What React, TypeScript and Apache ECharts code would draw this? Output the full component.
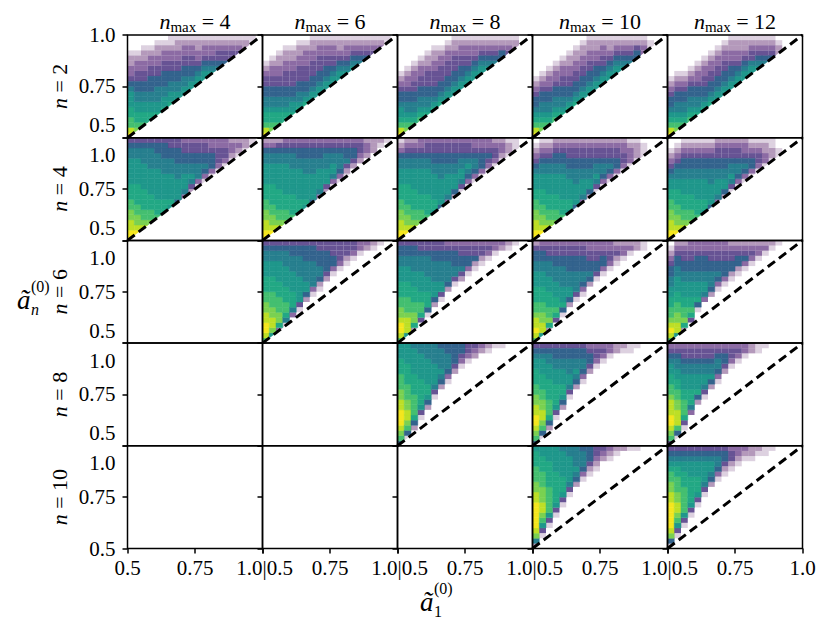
import React, { useEffect, useRef } from "react";
import * as echarts from "echarts";

// ---- structure ----
const N_VALUES = [2, 4, 6, 8, 10];
const NMAX_VALUES = [4, 6, 8, 10, 12];
const AXIS_MIN = 0.5;
const AXIS_MAX = 1.0;
const AXIS_STEP = 0.25;
const BIN = 0.025; // histogram bin width (20 bins per axis)
const TICK_TEXT: Record<string, string> = { "0.5": "0.5", "0.75": "0.75", "1": "1.0" };

// ---- 2D histograms ----
// each string = one x-bin (x from 0.5 upward), chars = y-bins from y=0.5 (first) to y=1.0 (last)
// char = density level 0..c (hex), 0 = empty; omitted trailing columns are empty
const h_n2_m4 = [
  "cb998877765433221000", "0a988776655443321000", "00988776655443322100", "00088776655544332100",
  "00008776665544332210", "00000877665554433210", "00000087766554433211", "00000007766554433221",
  "00000000776655443321", "00000000077655443321", "00000000007765433221", "00000000000776543321",
  "00000000000076543321", "00000000000006544321", "00000000000000544321", "00000000000000044321",
  "00000000000000004321", "00000000000000000221", "00000000000000000011",
];
const h_n2_m6 = [
  "cb988766554432100000", "0a988766554433210000", "00988766554433221000", "00088766554443322100",
  "00008776554443322100", "00000876655444332210", "00000087655444333210", "00000007765544433221",
  "00000000776554443321", "00000000077655443321", "00000000007765443321", "00000000000776543221",
  "00000000000076543321", "00000000000007654321", "00000000000000654321", "00000000000000054321",
  "00000000000000004321", "00000000000000000321", "00000000000000000011",
];
const h_n2_m8 = [
  "cb987765543210000000", "0a987665543321000000", "00987665544332100000", "00098766554433210000",
  "00008766554443221000", "00000876554443322100", "00000087655444332100", "00000007765544433210",
  "00000000776554443221", "00000000077655443321", "00000000007765443321", "00000000000776543321",
  "00000000000077654321", "00000000000007654321", "00000000000000654321", "00000000000000055321",
  "00000000000000004321", "00000000000000000221",
];
const h_n2_m10 = [
  "cb987655432100000000", "0a987665543210000000", "00987665543321000000", "00098766554332100000",
  "00008766554433210000", "00000876554433221000", "00000087655443322100", "00000007765544332210",
  "00000000776554433221", "00000000077655433221", "00000000007765443321", "00000000000776543221",
  "00000000000077654321", "00000000000007654321", "00000000000000654321", "00000000000000055421",
  "00000000000000003321", "00000000000000000110",
];
const h_n2_m12 = [
  "cb987655432100000000", "0a987665543210000000", "00987665543210000000", "00098766554321000000",
  "00008766554332100000", "00000876554433210000", "00000087655443321000", "00000007765544332100",
  "00000000776554433210", "00000000077655433221", "00000000007765433221", "00000000000776543221",
  "00000000000077644321", "00000000000007654321", "00000000000000654321", "00000000000000054321",
  "00000000000000002210",
];
const h_n4_m4 = [
  "ccbbaa99888777776654", "0cbaa998888777776654", "00ba9988887777766654", "000a9988877777666654",
  "00009888777777666554", "00000888777776665554", "00000078777776665544", "00000005777766655544",
  "00000000367776655443", "00000000024676655443", "00000000001366655443", "00000000000135655443",
  "00000000000013555433", "00000000000001344433", "00000000000000134433", "00000000000000012332",
  "00000000000000001232", "00000000000000000122", "00000000000000000011",
];
const h_n4_m6 = [
  "ccbbaa99888777766532", "0cbaa998888777766532", "00ba9988887777766542", "000a9988877777766543",
  "00009888877777666543", "00000888777777665543", "00000078777776665543", "00000005777776665543",
  "00000000367777665543", "00000000024777666543", "00000000001367766543", "00000000000135666543",
  "00000000000012465543", "00000000000000245543", "00000000000000023443", "00000000000000002332",
  "00000000000000000222", "00000000000000000012", "00000000000000000001",
];
const h_n4_m8 = [
  "ccbbaa99888777665321", "0cbaa998888777665432", "00ba9988887777665432", "000a9988877777665433",
  "00009888877777665443", "00000788777776655443", "00000057777766655443", "00000003677776655443",
  "00000000257776655443", "00000000014677665443", "00000000001356765443", "00000000000135665433",
  "00000000000013555433", "00000000000001345433", "00000000000000134432", "00000000000000012332",
  "00000000000000001221", "00000000000000000111",
];
const h_n4_m10 = [
  "ccbbaa99887776543210", "0cbaa998887776654321", "00ba9988877776654321", "000a9988877776655432",
  "00009888777776655432", "00000788777766554432", "00000057777666554432", "00000003677766554432",
  "00000000257766554432", "00000000014676654432", "00000000001356654432", "00000000000135654432",
  "00000000000013554432", "00000000000001344332", "00000000000000133321", "00000000000000012221",
  "00000000000000001110",
];
const h_n4_m12 = [
  "ccbbaa99887765432100", "0cbaa998887766543210", "00ba9988877766554321", "000a9988877766554321",
  "00009888777766554321", "00000788777766554321", "00000057777666554321", "00000003677766554432",
  "00000000257766554432", "00000000014676654432", "00000000001356654432", "00000000000135654332",
  "00000000000013554321", "00000000000001344321", "00000000000000133221", "00000000000000012211",
  "00000000000000001100",
];
const h_n6_m6 = [
  "9bccbbaa998887776654", "07abbaa9998887776654", "0038aa99988877776654", "00016899888777766654",
  "00000368887777666554", "00000014777776666554", "00000000257766665554", "00000000013666665554",
  "00000000001256655544", "00000000000024555544", "00000000000001355444", "00000000000000134444",
  "00000000000000012444", "00000000000000001344", "00000000000000000133", "00000000000000000023",
  "00000000000000000012", "00000000000000000001",
];
const h_n6_m8 = [
  "9bccbaa9988877766554", "07bbba99988877766554", "0028aa99888777666554", "00004899887777666544",
  "00000158887776666544", "00000002577766665544", "00000000147766665544", "00000000002566665543",
  "00000000000146655543", "00000000000024655443", "00000000000001355443", "00000000000000125443",
  "00000000000000012443", "00000000000000001343", "00000000000000000133", "00000000000000000023",
  "00000000000000000012", "00000000000000000001",
];
const h_n6_m10 = [
  "9bcbba99888777665542", "07bbaa99888777665543", "0028a998887776665443", "00004898877766655443",
  "00000158777666655443", "00000002577666555443", "00000000146666555443", "00000000013566555443",
  "00000000000256554433", "00000000000014554433", "00000000000001355433", "00000000000000134433",
  "00000000000000012432", "00000000000000001332", "00000000000000000132", "00000000000000000022",
  "00000000000000000011",
];
const h_n6_m12 = [
  "9bcba998877665543210", "07bbaa99887776655432", "0028a998877766554432", "00004898877766554433",
  "00000015877766555433", "00000000367766555433", "00000000025666554433", "00000000001356554433",
  "00000000000135554433", "00000000000012554432", "00000000000001255432", "00000000000000135432",
  "00000000000000013432", "00000000000000001332", "00000000000000000132", "00000000000000000012",
  "00000000000000000001",
];
const h_n8_m8 = [
  "59abcccbbaa999888777", "0159abbaa99988887777", "00025899998888777776", "00000147888887777766",
  "00000002578877777666", "00000000014677776666", "00000000000256766665", "00000000000013566655",
  "00000000000000245555", "00000000000000013455", "00000000000000001344", "00000000000000000234",
  "00000000000000000023", "00000000000000000012", "00000000000000000001", "00000000000000000001",
];
const h_n8_m10 = [
  "59abccbbaa9988877654", "0159abbaa99888777654", "00025899988887776654", "00000147888877766554",
  "00000002578877766554", "00000000014677666554", "00000000000256766554", "00000000000013566554",
  "00000000000000245543", "00000000000000013443", "00000000000000001343", "00000000000000000133",
  "00000000000000000022", "00000000000000000012", "00000000000000000011", "00000000000000000001",
];
const h_n8_m12 = [
  "49abccbbba9988776543", "0159bbbaa99887766543", "00014899988777665443", "00000036888777665443",
  "00000000258777665443", "00000000014677665443", "00000000000257665443", "00000000000013566543",
  "00000000000000245543", "00000000000000013443", "00000000000000001343", "00000000000000000133",
  "00000000000000000022", "00000000000000000011", "00000000000000000001",
];
const h_n10_m10 = [
  "26abcccccbbaa9998887", "001479abbaaa99988877", "00001479999988888777", "00000014788888877777",
  "00000000147888777776", "00000000001467777766", "00000000000025676666", "00000000000001356665",
  "00000000000000124555", "00000000000000012344", "00000000000000000234", "00000000000000000123",
  "00000000000000000012", "00000000000000000002", "00000000000000000001", "00000000000000000001",
];
const h_n10_m12 = [
  "15abcccccbbaa9987654", "001479abbaa999887654", "00001479999988877654", "00000014788888777654",
  "00000000147888777654", "00000000001467777654", "00000000000025677654", "00000000000001356654",
  "00000000000000124554", "00000000000000012443", "00000000000000001233", "00000000000000000123",
  "00000000000000000122", "00000000000000000012", "00000000000000000011", "00000000000000000001",
];

// rows = n, columns = n_max
const HIST: (string[] | null)[][] = [
  [h_n2_m4, h_n2_m6, h_n2_m8, h_n2_m10, h_n2_m12],
  [h_n4_m4, h_n4_m6, h_n4_m8, h_n4_m10, h_n4_m12],
  [null, h_n6_m6, h_n6_m8, h_n6_m10, h_n6_m12],
  [null, null, h_n8_m8, h_n8_m10, h_n8_m12],
  [null, null, null, h_n10_m10, h_n10_m12],
];

// viridis-like levels (1-4: speckle of dark purple points, partly see-through)
const LEVEL_COLORS = [
  "transparent",
  "rgba(68,1,84,0.18)",
  "rgba(68,1,84,0.4)",
  "rgba(70,16,108,0.62)",
  "rgba(70,45,125,0.82)",
  "#33638d",
  "#277f8e",
  "#1f978b",
  "#22a884",
  "#44bf70",
  "#7ad151",
  "#bddf26",
  "#f4e61e",
];

const FONT = "'Liberation Serif', 'DejaVu Serif', serif";
const LEFT = 127.5;
const TOP = 35;
const PW = 135;
const PH = 102.7;

function histData(cols: string[]) {
  const out: number[][] = [];
  const nb = Math.round((AXIS_MAX - AXIS_MIN) / BIN);
  for (let i = 0; i < nb; i++) {
    const s = cols[i] || "";
    for (let j = 0; j < nb; j++) {
      const ch = s[j];
      if (!ch) continue;
      const lv = parseInt(ch, 16);
      if (!lv) continue;
      out.push([AXIS_MIN + (i + 0.5) * BIN, AXIS_MIN + (j + 0.5) * BIN, lv, i, j]);
    }
  }
  return out;
}

function tickText(v: number) {
  return TICK_TEXT[String(v)] ?? String(v);
}

export default function App() {
  const ref = useRef<HTMLDivElement>(null);
  useEffect(() => {
    const chart = echarts.init(ref.current!, null, { renderer: "svg" });
    const grid: any[] = [];
    const xAxis: any[] = [];
    const yAxis: any[] = [];
    const series: any[] = [];
    const graphic: any[] = [];

    for (let r = 0; r < 5; r++) {
      for (let c = 0; c < 5; c++) {
        const idx = r * 5 + c;
        const isBottom = r === 4;
        const isLeft = c === 0;
        grid.push({
          left: LEFT + c * PW,
          top: TOP + r * PH,
          width: PW,
          height: PH,
          show: true,
          borderColor: "#000",
          borderWidth: 1.5,
          backgroundColor: "transparent",
          z: 3,
        });
        xAxis.push({
          type: "value",
          gridIndex: idx,
          min: AXIS_MIN,
          max: AXIS_MAX,
          interval: AXIS_STEP,
          axisLine: { show: false },
          splitLine: { show: false },
          axisTick: { show: isBottom, length: 5, lineStyle: { color: "#000", width: 1.5 } },
          axisLabel: {
            show: isBottom,
            fontSize: 21,
            fontFamily: FONT,
            color: "#000",
            margin: 9,
            alignMinLabel: c === 0 ? "center" : "left",
            alignMaxLabel: c === 4 ? "center" : "right",
            formatter: (v: number) => (v === AXIS_MIN && c > 0 ? "|" : "") + tickText(v),
          },
        });
        const lblRich = {
          t: { fontSize: 21, fontFamily: FONT, color: "#000", padding: r === 0 ? [0, 0, 0, 0] : [7, 0, 0, 0] },
          b: { fontSize: 21, fontFamily: FONT, color: "#000", padding: r === 4 ? [0, 0, 0, 0] : [0, 0, 2, 0] },
          m: { fontSize: 21, fontFamily: FONT, color: "#000" },
        };
        yAxis.push({
          type: "value",
          gridIndex: idx,
          min: AXIS_MIN,
          max: AXIS_MAX,
          interval: AXIS_STEP,
          axisLine: { show: false },
          splitLine: { show: false },
          axisTick: { show: true, length: 5, lineStyle: { color: "#000", width: 1.5 } },
          axisLabel: {
            show: isLeft,
            fontSize: 21,
            fontFamily: FONT,
            color: "#000",
            margin: 12,
            verticalAlignMinLabel: r === 4 ? "middle" : "bottom",
            verticalAlignMaxLabel: r === 0 ? "middle" : "top",
            rich: lblRich,
            formatter: (v: number) =>
              v === AXIS_MAX ? `{t|${tickText(v)}}` : v === AXIS_MIN ? `{b|${tickText(v)}}` : `{m|${tickText(v)}}`,
          },
        });
        const cols = HIST[r][c];
        if (cols) {
          series.push({
            type: "custom",
            xAxisIndex: idx,
            yAxisIndex: idx,
            coordinateSystem: "cartesian2d",
            encode: { x: 0, y: 1 },
            z: 2,
            silent: true,
            data: histData(cols),
            renderItem: (params: any, api: any) => {
              const xc = api.value(0);
              const yc = api.value(1);
              const lv = api.value(2);
              const i = api.value(3);
              const j = api.value(4);
              const x0 = xc - BIN / 2;
              const x1 = xc + BIN / 2;
              const y0 = yc - BIN / 2;
              const y1 = yc + BIN / 2;
              const color = LEVEL_COLORS[lv];
              const solid = lv >= 5;
              if (i === j) {
                return {
                  type: "polygon",
                  shape: { points: [api.coord([x0, y0]), api.coord([x0, y1]), api.coord([x1, y1])] },
                  style: { fill: color, stroke: solid ? color : null, lineWidth: 0.5 },
                };
              }
              const tl = api.coord([x0, y1]);
              const br = api.coord([x1, y0]);
              return {
                type: "rect",
                shape: { x: tl[0], y: tl[1], width: br[0] - tl[0], height: br[1] - tl[1] },
                style: { fill: color, stroke: solid ? color : null, lineWidth: 0.5 },
              };
            },
          });
          series.push({
            type: "line",
            xAxisIndex: idx,
            yAxisIndex: idx,
            data: [
              [AXIS_MIN, AXIS_MIN],
              [AXIS_MAX, AXIS_MAX],
            ],
            symbol: "none",
            silent: true,
            z: 5,
            lineStyle: { color: "#000", width: 3, type: [9, 5] },
          });
        }
      }
    }

    // column titles
    NMAX_VALUES.forEach((m, c) => {
      graphic.push({
        type: "text",
        x: LEFT + c * PW + PW / 2,
        y: 21,
        style: {
          text: `{i|n}{s|max}{r| = ${m}}`,
          align: "center",
          verticalAlign: "middle",
          rich: {
            i: { fontFamily: FONT, fontStyle: "italic", fontSize: 22, lineHeight: 26, fill: "#000" },
            s: { fontFamily: FONT, fontSize: 15, lineHeight: 14, verticalAlign: "bottom", fill: "#000" },
            r: { fontFamily: FONT, fontSize: 22, lineHeight: 26, fill: "#000" },
          },
        },
      });
    });
    // row titles
    N_VALUES.forEach((n, r) => {
      graphic.push({
        type: "text",
        x: 59,
        y: TOP + r * PH + PH / 2,
        rotation: Math.PI / 2,
        style: {
          text: `{i|n}{r| = ${n}}`,
          align: "center",
          verticalAlign: "middle",
          rich: {
            i: { fontFamily: FONT, fontStyle: "italic", fontSize: 22, fill: "#000" },
            r: { fontFamily: FONT, fontSize: 22, fill: "#000" },
          },
        },
      });
    });
    // axis titles
    const axisTitle = (x: number, y: number, sub: string) => [
      { type: "text", x, y, style: { text: "ã", font: `italic 27px ${FONT}`, fill: "#000", align: "left", verticalAlign: "middle" } },
      { type: "text", x: x + 14, y: y - 14, style: { text: "(0)", font: `16px ${FONT}`, fill: "#000", align: "left", verticalAlign: "middle" } },
      { type: "text", x: x + 14, y: y + 9, style: { text: sub, font: `${sub === "n" ? "italic " : ""}16px ${FONT}`, fill: "#000", align: "left", verticalAlign: "middle" } },
    ];
    graphic.push(...axisTitle(420, 602, "1"));
    graphic.push(...axisTitle(17, 300, "n"));

    chart.setOption({
      animation: false,
      backgroundColor: "#fff",
      grid,
      xAxis,
      yAxis,
      series,
      graphic,
    });
    return () => chart.dispose();
  }, []);

  return <div ref={ref} style={{ position: "fixed", left: 0, top: 0, width: 830, height: 634 }} />;
}
